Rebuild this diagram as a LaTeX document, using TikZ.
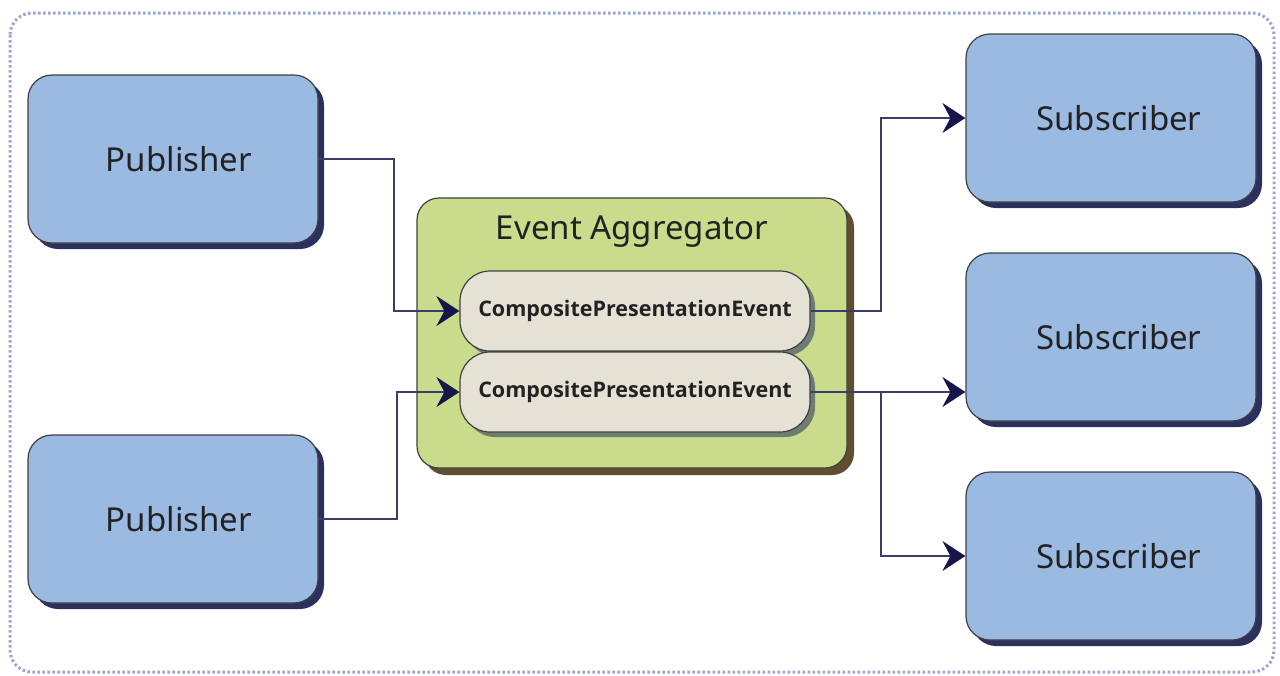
\documentclass[tikz,border=0pt]{standalone}
\usepackage{fontspec}
\setmainfont{Noto Sans}
\newfontfamily\evfont{Open Sans}
\usetikzlibrary{arrows.meta,shadows}
\definecolor{boxblue}{HTML}{9BBAE2}
\definecolor{blueshadow}{HTML}{2C305E}
\definecolor{aggfill}{HTML}{C8DC8C}
\definecolor{aggshadow}{HTML}{5E502E}
\definecolor{evfill}{HTML}{E4E2D4}
\definecolor{evshadow}{HTML}{6E7C74}
\definecolor{linecol}{HTML}{3C3C6C}
\definecolor{arrowcol}{HTML}{16164A}
\definecolor{dotcol}{HTML}{9AA4D6}
\definecolor{txt}{HTML}{222222}
\tikzset{
  bluebox/.style={draw=black!75, line width=1.2pt, fill=boxblue, rounded corners=24pt,
    minimum width=290pt, minimum height=168pt, inner sep=0pt, text=txt,
    font=\fontsize{33}{38}\selectfont,
    drop shadow={shadow xshift=6pt, shadow yshift=-6pt, fill=blueshadow, opacity=1}},
  aggbox/.style={draw=black!75, line width=1.2pt, fill=aggfill, rounded corners=22pt,
    minimum width=430pt, minimum height=270pt, inner sep=0pt,
    drop shadow={shadow xshift=7pt, shadow yshift=-7pt, fill=aggshadow, opacity=1}},
  evbox/.style={draw=black!75, line width=1.2pt, fill=evfill, rounded corners=30pt,
    minimum width=350pt, minimum height=80pt, inner sep=0pt, text=txt,
    font=\evfont\bfseries\fontsize{21.5}{25}\selectfont,
    drop shadow={shadow xshift=5pt, shadow yshift=-5pt, fill=evshadow, opacity=1}},
  conn/.style={draw=linecol, line width=2pt,
    -{Stealth[length=23pt, width=30pt, inset=8pt, color=arrowcol]}}
}
\begin{document}
\begin{tikzpicture}[x=1pt, y=-1pt]
\useasboundingbox (0,0) rectangle (1280,675);
\draw[dotcol, line width=3pt, dash pattern=on 2.5pt off 2.5pt, rounded corners=22pt]
  (10,13) rectangle (1274,672);

\node[bluebox] (pub1) at (173,159) {\hspace*{12pt}Publisher};
\node[bluebox] (pub2) at (173,519) {\hspace*{12pt}Publisher};
\node[bluebox] (sub1) at (1111,118) {\hspace*{16pt}Subscriber};
\node[bluebox] (sub2) at (1111,337) {\hspace*{16pt}Subscriber};
\node[bluebox] (sub3) at (1111,556) {\hspace*{16pt}Subscriber};

\node[aggbox] (agg) at (632,333) {};
\node[text=txt, font=\fontsize{33}{38}\selectfont] (aggtitle) at (632,232) {Event Aggregator};
\node[evbox] (ev1) at (635,311) {\raisebox{-5pt}{CompositePresentationEvent}};
\node[evbox] (ev2) at (635,392) {\raisebox{1pt}{CompositePresentationEvent}};

\draw[conn] (pub1.east) -- ++(75,0) |- (ev1.west);
\draw[conn] (pub2.east) -- ++(78,0) |- (ev2.west);
\draw[conn] (ev1.east) -- ++(70,0) |- (sub1.west);
\draw[conn] (ev2.east) -- (ev2.east -| sub2.west);
\coordinate (br) at ([xshift=70pt]ev2.east);
\draw[conn] (br) |- (sub3.west);
\end{tikzpicture}
\end{document}
